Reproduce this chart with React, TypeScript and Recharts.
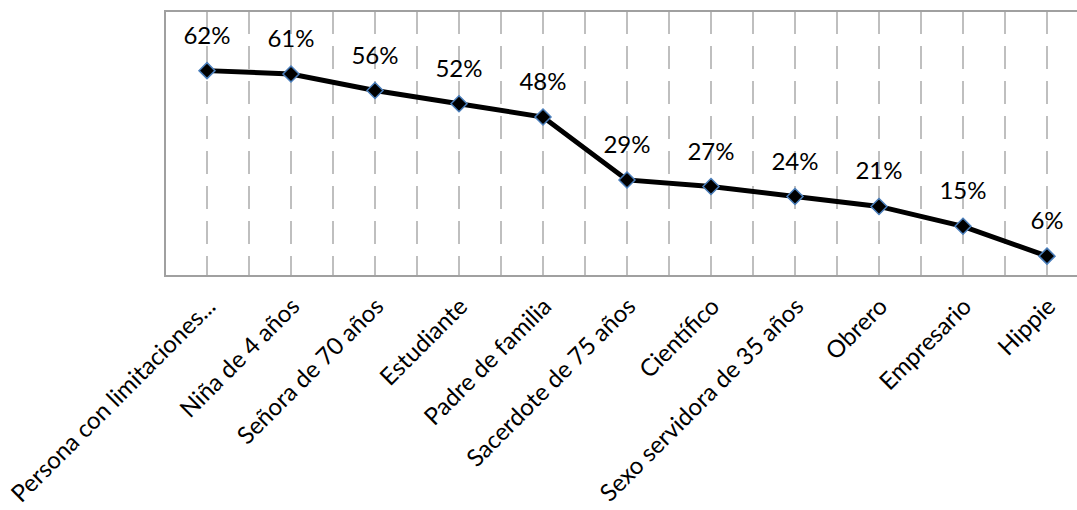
import { LineChart, Line, XAxis, YAxis, CartesianGrid, LabelList, ReferenceArea } from "recharts"

const categories = [
  "Persona con limitaciones...",
  "Niña de 4 años",
  "Señora de 70 años",
  "Estudiante",
  "Padre de familia",
  "Sacerdote de 75 años",
  "Científico",
  "Sexo servidora de 35 años",
  "Obrero",
  "Empresario",
  "Hippie",
]
const values = [62, 61, 56, 52, 48, 29, 27, 24, 21, 15, 6]
const categoryTicks = categories.map((_, i) => i)
// gridlines at every category and between categories
const gridTicks = categories.flatMap((_, i) => [i, i + 0.5])

const data = categories.map((name, i) => ({ idx: i, name, value: values[i] }))

const FONT = "Lato, 'Open Sans', sans-serif"

function AngledTick({ x, y, payload }: any) {
  return (
    <g transform={`translate(${x + 10},${y + 30}) rotate(-45)`}>
      <text textAnchor="end" fontSize={24} fill="#000" fontFamily={FONT}>
        {categories[payload.value]}
      </text>
    </g>
  )
}

function Diamond({ cx, cy, index }: any) {
  if (cx == null || cy == null) return null
  const r = 8
  return (
    <path
      key={index}
      d={`M${cx},${cy - r} L${cx + r},${cy} L${cx},${cy + r} L${cx - r},${cy} Z`}
      fill="#000"
      stroke="#4a7ebb"
      strokeWidth={1.5}
    />
  )
}

export default function App() {
  return (
    <div style={{ position: "absolute", left: 0, top: 0, width: 1077, height: 510, overflow: "hidden", background: "#fff" }}>
      <LineChart width={1100} height={510} data={data} margin={{ top: 11, right: 11, left: 165, bottom: 34 }}>
        <XAxis
          xAxisId="grid"
          type="number"
          dataKey="idx"
          domain={[-0.5, categories.length - 0.5]}
          ticks={gridTicks}
          hide
          height={0}
        />
        <CartesianGrid
          xAxisId="grid"
          horizontal={false}
          stroke="#bfbfbf"
          strokeWidth={2}
          strokeDasharray="23 12"
        />
        <XAxis
          type="number"
          dataKey="idx"
          domain={[-0.5, categories.length - 0.5]}
          ticks={categoryTicks}
          interval={0}
          tick={<AngledTick />}
          tickLine={false}
          tickSize={0}
          axisLine={false}
          height={200}
        />
        <YAxis type="number" domain={[0, 80]} hide width={0} />
        <ReferenceArea
          x1={-0.5}
          x2={categories.length - 0.5}
          y1={0}
          y2={80}
          fill="none"
          stroke="#a0a0a0"
          strokeWidth={2}
          ifOverflow="visible"
        />
        <Line
          type="linear"
          dataKey="value"
          stroke="#000"
          strokeWidth={5}
          dot={<Diamond />}
          activeDot={false}
          isAnimationActive={false}
        >
          <LabelList
            dataKey="value"
            position="top"
            offset={27}
            formatter={(v: any) => `${v}%`}
            fill="#000"
            fontSize={24}
            fontFamily={FONT}
          />
        </Line>
      </LineChart>
    </div>
  )
}
